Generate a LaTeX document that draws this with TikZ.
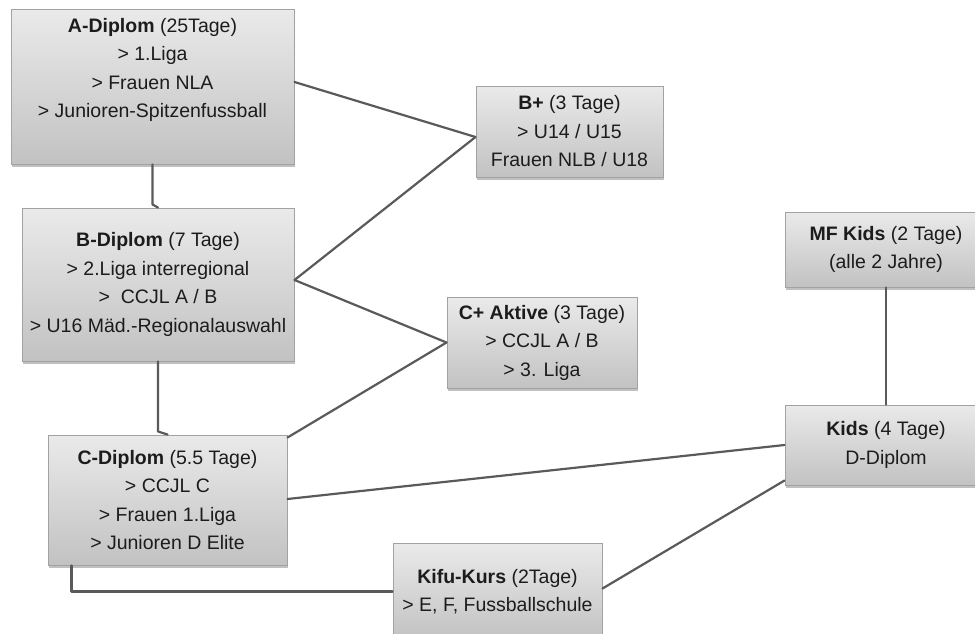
\documentclass[tikz,border=0pt]{standalone}
\usepackage{fontspec}
\setmainfont{Liberation Sans}
\usetikzlibrary{shadows}
\definecolor{boxtop}{HTML}{EAEAEA}
\definecolor{boxbot}{HTML}{C2C2C2}
\definecolor{boxline}{HTML}{A2A2A2}
\definecolor{conn}{HTML}{5A5A5A}
\definecolor{txt}{HTML}{1C1C1C}
\tikzset{
  course/.style={rectangle, draw=boxline, line width=1pt, top color=boxtop, bottom color=boxbot,
    drop shadow={shadow xshift=1pt, shadow yshift=-2.5pt, opacity=0.35, fill=black!70},
    align=center, inner sep=0pt, text=txt,
    font={\fontsize{19.5}{28.5}\selectfont}},
  link/.style={draw=conn, line width=2.2pt, line cap=round, line join=round}
}
\begin{document}
\begin{tikzpicture}[x=1pt, y=-1pt]
\useasboundingbox (0,0) rectangle (975,633);
\clip (0,0) rectangle (975,633);
\fill[white] (0,0) rectangle (975,633);

\node[course, minimum width=283pt, minimum height=155pt] (A) at (152.5,86.5)
  {\textbf{A-Diplom} (25Tage)\\> 1.Liga\\> Frauen NLA\\> Junioren-Spitzenfussball\\\strut};
\node[course, minimum width=272pt, minimum height=153pt] (B) at (158,284.5)
  {\textbf{B-Diplom} (7 Tage)\\> 2.Liga interregional\\>\ \ CCJL A / B\\> U16 Mäd.-Regionalauswahl};
\node[course, minimum width=239pt, minimum height=130pt] (C) at (167.5,500)
  {\textbf{C-Diplom} (5.5 Tage)\\> CCJL C\\> Frauen 1.Liga\\> Junioren D Elite};
\node[course, minimum width=187pt, minimum height=91pt] (Bp) at (569.5,131.5)
  {\textbf{B+} (3 Tage)\\> U14 / U15\\Frauen NLB / U18};
\node[course, minimum width=190pt, minimum height=91pt] (Cp) at (542,342.5)
  {\textbf{C+ Aktive} (3 Tage)\\> CCJL A / B\\> 3. Liga};
\node[course, minimum width=209pt, minimum height=97pt] (Kifu) at (497.5,591.5)
  {\textbf{Kifu-Kurs} (2Tage)\\> E, F, Fussballschule};
\node[course, minimum width=202pt, minimum height=75pt] (MF) at (886,249.5)
  {\textbf{MF Kids} (2 Tage)\\(alle 2 Jahre)};
\node[course, minimum width=202pt, minimum height=80pt] (K) at (886,445)
  {\textbf{Kids} (4 Tage)\\D-Diplom};

\draw[link] (A.south) -- ([yshift=3pt]A.south |- B.north) -- (B.north);
\draw[link] (B.south) -- ([yshift=3pt]B.south |- C.north) -- (C.north);
\draw[link] ([yshift=4.5pt]A.east) -- ([yshift=-5.5pt]Bp.west);
\draw[link] ([yshift=4.5pt]B.east) -- ([yshift=-5.5pt]Bp.west);
\draw[link] ([yshift=4.5pt]B.east) -- (Cp.west);
\draw[link] ([yshift=-3pt]C.north east) -- (Cp.west);
\draw[link] ([yshift=1pt]C.east) -- (K.west);
\draw[link] ([xshift=24pt]C.south west) |- (Kifu.west);
\draw[link] ([yshift=3pt]Kifu.east) -- ([yshift=5pt]K.south west);
\draw[link] (MF.south) -- (K.north);
\end{tikzpicture}
\end{document}
